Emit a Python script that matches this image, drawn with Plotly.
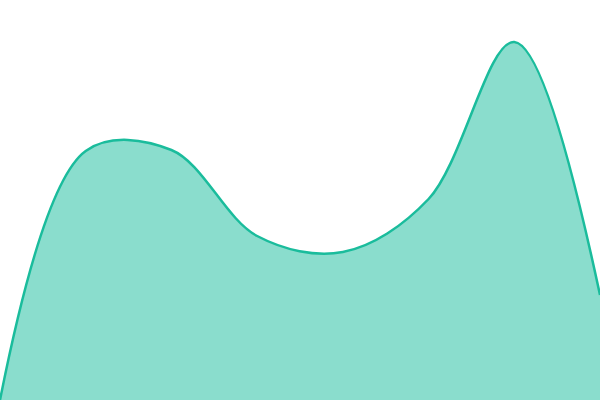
import plotly.graph_objects as go

# eight samples spread evenly across the width
x = [0, 1, 2, 3, 4, 5, 6, 7]
y = [0, 249, 250, 164, 148, 201, 358, 105]

fig = go.Figure(go.Scatter(
    x=x, y=y,
    mode="lines",
    line=dict(color="#1abc9c", width=2.5, shape="spline", smoothing=1),
    fill="tozeroy",
    fillcolor="rgba(26,188,156,0.51)",
    hoverinfo="skip",
))

fig.update_layout(
    width=600, height=400,
    margin=dict(l=0, r=0, t=0, b=0),
    paper_bgcolor="white", plot_bgcolor="white",
    showlegend=False,
    xaxis=dict(visible=False, range=[0, 7]),
    yaxis=dict(visible=False, range=[0, 400]),
)

# drop the browser's default body margin so the chart sits flush
fig.write_html("out.html", config={"displayModeBar": False},
               post_script="document.body.style.margin='0';")
